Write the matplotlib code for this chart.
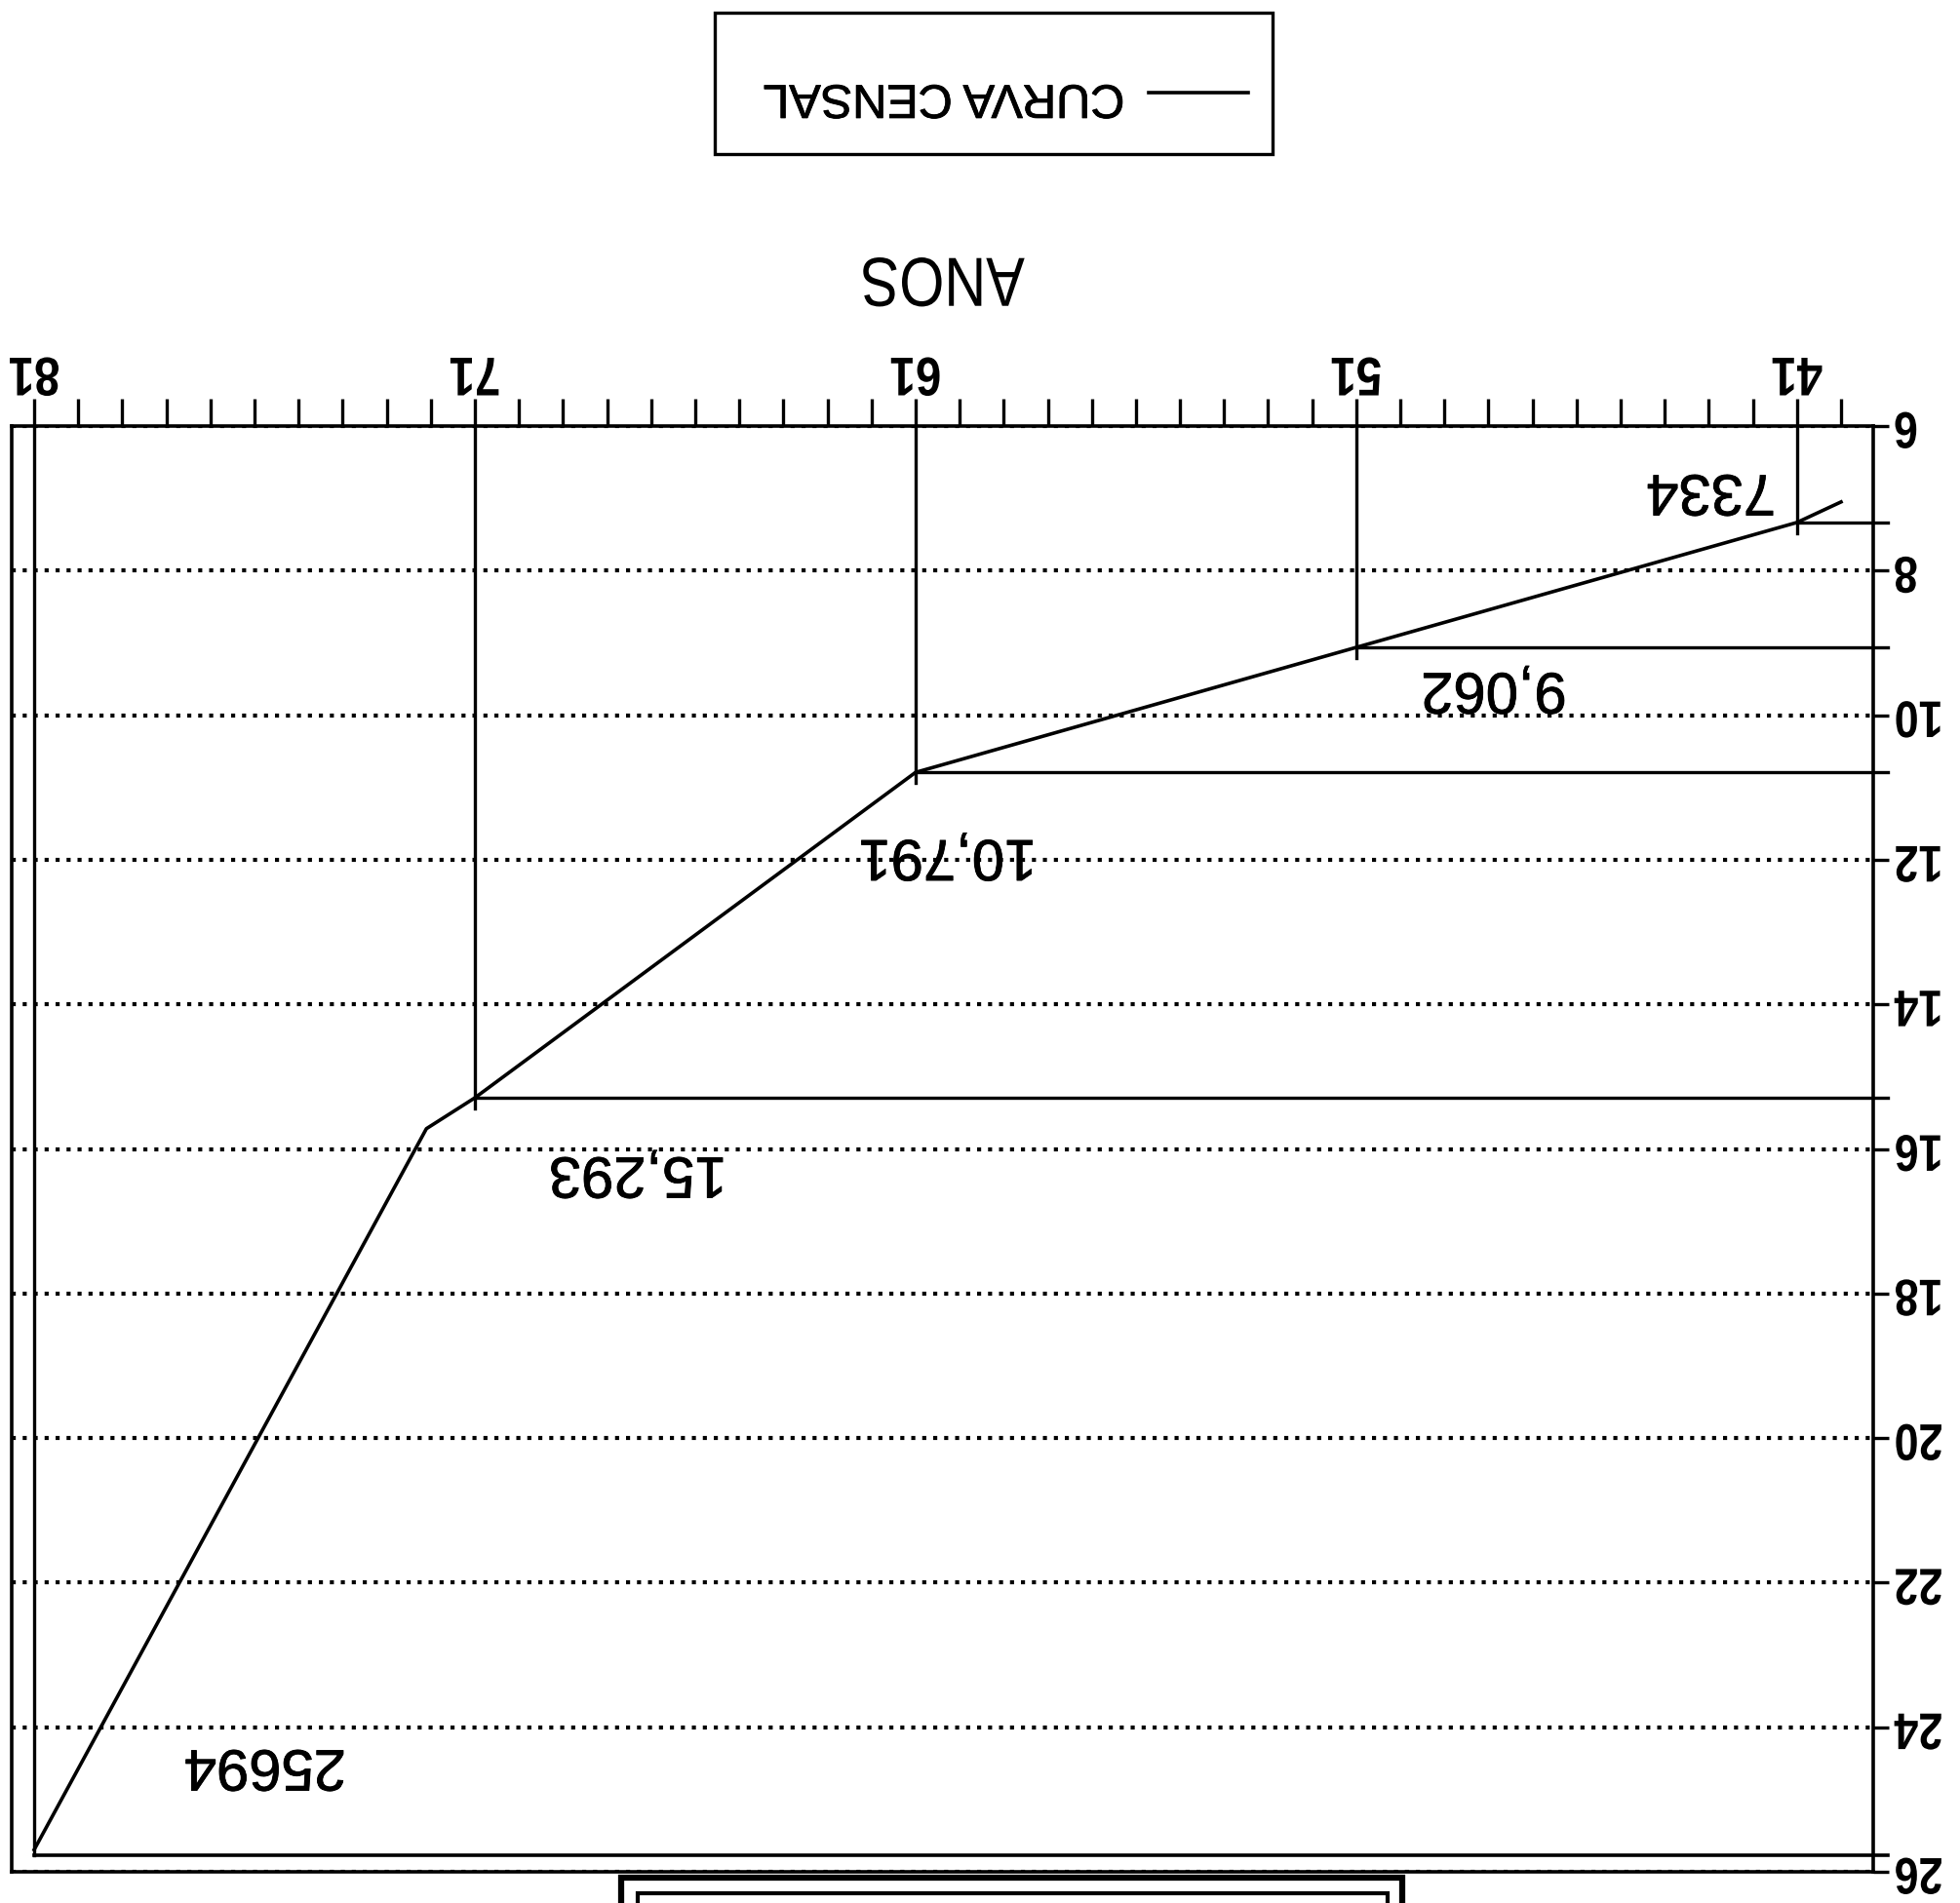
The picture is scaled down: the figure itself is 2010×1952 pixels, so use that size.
import matplotlib
matplotlib.use("Agg")
import matplotlib.pyplot as plt
from matplotlib.patches import Rectangle
from matplotlib.patheffects import AbstractPathEffect, withStroke
from matplotlib.transforms import Affine2D

# Census population (inhabitants) per census year
census_years = [1941, 1951, 1961, 1971, 1981]
census_pop = [7334, 9062, 10791, 15293, 25694]
label_formats = ["{:d}", "{:,d}", "{:,d}", "{:,d}", "{:d}"]

# Census curve, in thousands of inhabitants
curve_years = [1940, 1941, 1951, 1961, 1971, 1972.1, 1981]
curve_pop = [7.05, 7.334, 9.062, 10.791, 15.293, 15.72, 25.694]

# Axis ticks
y_ticks = [6, 8, 10, 12, 14, 16, 18, 20, 22, 24, 26]
x_ticks = list(range(1940, 1982))
x_labelled = [1941, 1951, 1961, 1971, 1981]

plt.rcParams["font.family"] = ["Liberation Sans", "DejaVu Sans"]


class Stretch(AbstractPathEffect):
    """Draw glyphs scaled about the centre of the string (tall lettering)."""

    def __init__(self, sx=1.0, sy=1.0):
        super().__init__()
        self._sx, self._sy = sx, sy

    def draw_path(self, renderer, gc, tpath, affine, rgbFace=None):
        ext = tpath.get_extents()
        cx, cy = (ext.x0 + ext.x1) / 2, (ext.y0 + ext.y1) / 2
        pre = (Affine2D().translate(-cx, -cy)
               .scale(self._sx, self._sy).translate(cx, cy))
        renderer.draw_path(gc, tpath, pre + affine, rgbFace)


# Slightly heavier strokes for the printed lettering
heavy = [withStroke(linewidth=0.6, foreground="black")]

W, H = 2010, 1952
fig = plt.figure(figsize=(W / 100, H / 100), dpi=100)
fig.patch.set_facecolor("white")


def fx(px):
    return px / W


def fy(py):
    return 1 - py / H


# The sheet is printed upside down: years run right-to-left, values grow downward
ax = fig.add_axes([fx(12), fy(1920), fx(1921) - fx(12), fy(437) - fy(1920)])
ax.set_xlim(1981.51, 1939.27)
ax.set_ylim(26, 6)

for sp in ax.spines.values():
    sp.set_linewidth(2.6)
    sp.set_color("black")

# Year axis along the top
ax.xaxis.tick_top()
ax.set_xticks(x_ticks)
ax.set_xticklabels([str(y)[2:] if y in x_labelled else "" for y in x_ticks],
                   rotation=180, fontsize=36, fontweight="bold")
for lbl in ax.get_xticklabels():
    lbl.set_path_effects([Stretch(0.95, 1.12)])
ax.tick_params(axis="x", direction="out", length=20, width=2.4, pad=3)
ax.xaxis.set_label_position("top")
ax.set_xlabel("ANOS", fontsize=45, rotation=180, labelpad=42,
              path_effects=[Stretch(0.95, 1.14)])

# Population axis on the right
ax.yaxis.tick_right()
ax.set_yticks(y_ticks)
ax.set_yticklabels([str(v) for v in y_ticks], rotation=180, fontsize=34,
                   fontweight="bold")
for lbl in ax.get_yticklabels():
    lbl.set_va("center")
    lbl.set_path_effects([Stretch(0.95, 1.12)])
ax.tick_params(axis="y", direction="out", length=11.5, width=2.4, pad=3)

ax.grid(axis="y", color="black", linewidth=3.0, linestyle=(0, (1, 1.7)))
ax.set_axisbelow(True)

# Census curve
curve, = ax.plot(curve_years, curve_pop, color="black", lw=2.6,
                 label="CURVA CENSAL", zorder=3)

# Reference lines from each census point to both axes
inner_bottom = 25.77
right_end = 1938.93
for yr, p in zip(census_years, census_pop):
    v = p / 1000
    end = inner_bottom if yr == 1981 else v + 0.15
    ax.plot([yr, yr], [6, end], color="black", lw=2.4, clip_on=False, zorder=3)
    if yr != 1981:
        ax.plot([yr, right_end], [v, v], color="black", lw=2.4,
                clip_on=False, zorder=3)
ax.plot([1981, right_end], [inner_bottom, inner_bottom], color="black",
        lw=2.6, clip_on=False, zorder=3)

# Value labels next to each census point
label_pos = [(1942.95, 6.89), (1947.88, 9.63), (1960.27, 11.94),
             (1967.3, 16.33), (1975.76, 24.53)]
for (lx, ly), p, fmt in zip(label_pos, census_pop, label_formats):
    ax.text(lx, ly, fmt.format(p), rotation=180, ha="center", va="center",
            fontsize=43, color="black", path_effects=heavy)

# Legend, with its frame drawn around it
leg = fig.legend(handles=[curve], labels=["CURVA CENSAL"], loc="center",
                 bbox_to_anchor=(fx(1031), fy(100)), markerfirst=False,
                 frameon=False, fontsize=35, handlelength=2.1,
                 handletextpad=0.5, borderpad=0.0)
leg.get_texts()[0].set_rotation(180)
leg.get_texts()[0].set_path_effects(heavy)
fig.add_artist(Rectangle((fx(733), fy(158)), fx(1305) - fx(733),
                         fy(13) - fy(158), fill=False, lw=2.4,
                         edgecolor="black", transform=fig.transFigure))

# Title frame cut off at the lower edge of the sheet
fig.add_artist(Rectangle((fx(637), fy(2000)), fx(1438) - fx(637),
                         fy(1926) - fy(2000), fill=False, lw=4.5,
                         edgecolor="black", transform=fig.transFigure))
fig.add_artist(Rectangle((fx(654), fy(2000)), fx(1423) - fx(654),
                         fy(1942) - fy(2000), fill=False, lw=3.0,
                         edgecolor="black", transform=fig.transFigure))

fig.savefig("out.png", dpi=100, facecolor="white")
